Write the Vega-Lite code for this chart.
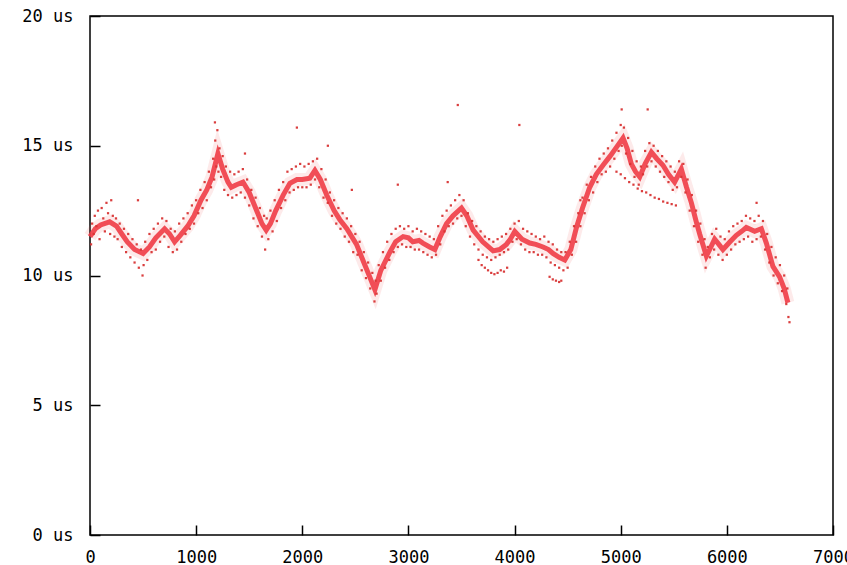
{
  "$schema": "https://vega.github.io/schema/vega-lite/v6.json",
  "width": 743,
  "height": 519,
  "autosize": "none",
  "padding": {"left": 90, "top": 16, "right": 14, "bottom": 30},
  "background": "white",
  "config": {
    "view": {"stroke": "#000000", "strokeWidth": 1.5},
    "axis": {
      "domain": false,
      "grid": false,
      "ticks": true,
      "tickColor": "#000000",
      "tickWidth": 1.5,
      "tickSize": 10,
      "offset": -10,
      "labelFlush": false,
      "labelOverlap": false,
      "labelFont": "DejaVu Sans Mono",
      "labelFontSize": 17,
      "labelColor": "#000000",
      "title": null
    }
  },
  "datasets": {
    "trend": [
      {"t":0,"lat":11.5},{"t":50,"lat":11.8},{"t":100,"lat":11.95},{"t":185,"lat":12.07},{"t":250,"lat":11.9},{"t":300,"lat":11.6},{"t":350,"lat":11.3},{"t":420,"lat":11.0},{"t":500,"lat":10.85},{"t":560,"lat":11.1},{"t":620,"lat":11.45},{"t":703,"lat":11.8},{"t":750,"lat":11.6},{"t":797,"lat":11.3},{"t":850,"lat":11.55},{"t":920,"lat":11.9},{"t":980,"lat":12.3},{"t":1045,"lat":12.9},{"t":1100,"lat":13.3},{"t":1150,"lat":13.8},{"t":1205,"lat":14.7},{"t":1250,"lat":14.1},{"t":1300,"lat":13.6},{"t":1331,"lat":13.4},{"t":1380,"lat":13.5},{"t":1441,"lat":13.6},{"t":1500,"lat":13.2},{"t":1560,"lat":12.6},{"t":1620,"lat":12.0},{"t":1660,"lat":11.75},{"t":1700,"lat":12.0},{"t":1750,"lat":12.5},{"t":1820,"lat":13.1},{"t":1883,"lat":13.55},{"t":1950,"lat":13.7},{"t":2000,"lat":13.7},{"t":2071,"lat":13.75},{"t":2119,"lat":14.05},{"t":2170,"lat":13.7},{"t":2230,"lat":13.1},{"t":2300,"lat":12.5},{"t":2354,"lat":12.15},{"t":2420,"lat":11.8},{"t":2511,"lat":11.2},{"t":2580,"lat":10.5},{"t":2640,"lat":9.9},{"t":2684,"lat":9.45},{"t":2740,"lat":10.2},{"t":2825,"lat":10.9},{"t":2880,"lat":11.3},{"t":2950,"lat":11.5},{"t":3000,"lat":11.45},{"t":3041,"lat":11.3},{"t":3100,"lat":11.35},{"t":3136,"lat":11.25},{"t":3200,"lat":11.1},{"t":3249,"lat":11.0},{"t":3300,"lat":11.5},{"t":3359,"lat":12.0},{"t":3420,"lat":12.3},{"t":3500,"lat":12.6},{"t":3550,"lat":12.3},{"t":3610,"lat":11.75},{"t":3700,"lat":11.3},{"t":3798,"lat":10.95},{"t":3860,"lat":11.0},{"t":3923,"lat":11.2},{"t":3960,"lat":11.4},{"t":4002,"lat":11.7},{"t":4070,"lat":11.4},{"t":4143,"lat":11.25},{"t":4200,"lat":11.2},{"t":4268,"lat":11.1},{"t":4320,"lat":11.0},{"t":4362,"lat":10.85},{"t":4420,"lat":10.7},{"t":4473,"lat":10.6},{"t":4530,"lat":11.0},{"t":4583,"lat":11.85},{"t":4640,"lat":12.6},{"t":4708,"lat":13.4},{"t":4770,"lat":13.9},{"t":4833,"lat":14.25},{"t":4900,"lat":14.6},{"t":4944,"lat":14.85},{"t":5022,"lat":15.3},{"t":5060,"lat":14.9},{"t":5100,"lat":14.3},{"t":5140,"lat":14.0},{"t":5179,"lat":13.8},{"t":5230,"lat":14.3},{"t":5289,"lat":14.75},{"t":5340,"lat":14.5},{"t":5398,"lat":14.25},{"t":5450,"lat":13.9},{"t":5508,"lat":13.6},{"t":5571,"lat":14.1},{"t":5620,"lat":13.4},{"t":5666,"lat":12.8},{"t":5710,"lat":12.1},{"t":5744,"lat":11.6},{"t":5807,"lat":10.75},{"t":5850,"lat":11.1},{"t":5885,"lat":11.4},{"t":5925,"lat":11.2},{"t":5963,"lat":11.0},{"t":6030,"lat":11.3},{"t":6089,"lat":11.55},{"t":6140,"lat":11.7},{"t":6183,"lat":11.85},{"t":6262,"lat":11.7},{"t":6325,"lat":11.8},{"t":6372,"lat":11.25},{"t":6434,"lat":10.35},{"t":6497,"lat":9.95},{"t":6540,"lat":9.5},{"t":6575,"lat":8.95}
    ],
    "dots": [
      {"t":10,"lat":11.2},{"t":20,"lat":12.0},{"t":35,"lat":11.6},{"t":45,"lat":12.3},{"t":60,"lat":11.9},{"t":75,"lat":12.5},{"t":90,"lat":11.4},{"t":110,"lat":12.6},{"t":125,"lat":12.2},{"t":140,"lat":11.7},{"t":155,"lat":12.8},{"t":170,"lat":12.4},{"t":190,"lat":11.6},{"t":200,"lat":12.9},{"t":215,"lat":12.3},{"t":230,"lat":11.5},{"t":245,"lat":12.2},{"t":260,"lat":11.4},{"t":280,"lat":12.0},{"t":300,"lat":11.1},{"t":320,"lat":11.8},{"t":340,"lat":10.9},{"t":360,"lat":11.6},{"t":380,"lat":10.7},{"t":400,"lat":11.4},{"t":420,"lat":10.5},{"t":440,"lat":11.2},{"t":460,"lat":10.3},{"t":480,"lat":11.0},{"t":495,"lat":10.0},{"t":505,"lat":10.4},{"t":520,"lat":11.3},{"t":540,"lat":10.6},{"t":560,"lat":11.6},{"t":580,"lat":10.9},{"t":600,"lat":11.8},{"t":620,"lat":11.0},{"t":640,"lat":12.0},{"t":660,"lat":11.3},{"t":680,"lat":12.2},{"t":700,"lat":11.5},{"t":720,"lat":12.1},{"t":740,"lat":11.1},{"t":760,"lat":11.8},{"t":780,"lat":10.9},{"t":800,"lat":11.7},{"t":820,"lat":11.0},{"t":840,"lat":12.0},{"t":860,"lat":11.3},{"t":880,"lat":12.2},{"t":900,"lat":11.6},{"t":920,"lat":12.4},{"t":940,"lat":11.8},{"t":960,"lat":12.7},{"t":980,"lat":12.0},{"t":1000,"lat":12.9},
      {"t":1020,"lat":12.4},{"t":1040,"lat":13.3},{"t":1060,"lat":12.6},{"t":1080,"lat":13.6},{"t":1100,"lat":12.9},{"t":1120,"lat":14.0},{"t":1140,"lat":13.4},{"t":1160,"lat":14.5},{"t":1170,"lat":13.7},{"t":1180,"lat":15.2},{"t":1190,"lat":14.2},{"t":1200,"lat":15.6},{"t":1210,"lat":14.0},{"t":1220,"lat":14.9},{"t":1235,"lat":13.8},{"t":1250,"lat":14.6},{"t":1265,"lat":13.3},{"t":1280,"lat":14.2},{"t":1300,"lat":13.1},{"t":1320,"lat":14.0},{"t":1340,"lat":13.0},{"t":1360,"lat":13.9},{"t":1380,"lat":13.1},{"t":1400,"lat":14.0},{"t":1420,"lat":13.2},{"t":1440,"lat":14.1},{"t":1460,"lat":13.0},{"t":1480,"lat":13.7},{"t":1500,"lat":12.7},{"t":1520,"lat":13.3},{"t":1540,"lat":12.2},{"t":1560,"lat":13.0},{"t":1580,"lat":11.9},{"t":1600,"lat":12.6},{"t":1620,"lat":11.5},{"t":1640,"lat":12.3},{"t":1650,"lat":11.0},{"t":1665,"lat":12.2},{"t":1680,"lat":11.4},{"t":1700,"lat":12.5},{"t":1720,"lat":11.7},{"t":1740,"lat":12.9},{"t":1760,"lat":12.1},{"t":1780,"lat":13.3},{"t":1800,"lat":12.6},{"t":1820,"lat":13.6},{"t":1840,"lat":12.9},{"t":1860,"lat":14.0},{"t":1880,"lat":13.2},{"t":1900,"lat":14.1},{"t":1920,"lat":13.3},{"t":1940,"lat":14.2},{"t":1960,"lat":13.4},{"t":1980,"lat":14.3},{"t":2000,"lat":13.4},
      {"t":2020,"lat":14.2},{"t":2040,"lat":13.4},{"t":2060,"lat":14.3},{"t":2080,"lat":13.5},{"t":2100,"lat":14.4},{"t":2120,"lat":13.7},{"t":2140,"lat":14.5},{"t":2160,"lat":13.4},{"t":2180,"lat":14.1},{"t":2200,"lat":13.0},{"t":2220,"lat":13.7},{"t":2240,"lat":12.8},{"t":2260,"lat":13.2},{"t":2280,"lat":12.3},{"t":2300,"lat":12.9},{"t":2320,"lat":12.0},{"t":2340,"lat":12.6},{"t":2360,"lat":11.8},{"t":2380,"lat":12.4},{"t":2400,"lat":11.5},{"t":2420,"lat":12.2},{"t":2440,"lat":11.3},{"t":2460,"lat":11.9},{"t":2480,"lat":10.9},{"t":2500,"lat":11.6},{"t":2520,"lat":10.8},{"t":2540,"lat":11.3},{"t":2560,"lat":10.2},{"t":2580,"lat":10.9},{"t":2600,"lat":9.9},{"t":2620,"lat":10.5},{"t":2640,"lat":9.5},{"t":2660,"lat":10.1},{"t":2680,"lat":9.0},{"t":2690,"lat":9.8},{"t":2700,"lat":9.3},{"t":2720,"lat":10.4},{"t":2740,"lat":9.8},{"t":2760,"lat":10.9},{"t":2780,"lat":10.3},{"t":2800,"lat":11.3},{"t":2820,"lat":10.6},{"t":2840,"lat":11.6},{"t":2860,"lat":10.9},{"t":2880,"lat":11.8},{"t":2900,"lat":11.1},{"t":2920,"lat":11.9},{"t":2940,"lat":11.2},{"t":2960,"lat":11.8},{"t":2980,"lat":11.1},{"t":3000,"lat":11.9},
      {"t":3020,"lat":11.1},{"t":3040,"lat":11.7},{"t":3060,"lat":11.0},{"t":3080,"lat":11.8},{"t":3100,"lat":11.0},{"t":3120,"lat":11.7},{"t":3140,"lat":10.9},{"t":3160,"lat":11.6},{"t":3180,"lat":10.8},{"t":3200,"lat":11.5},{"t":3220,"lat":10.7},{"t":3240,"lat":11.4},{"t":3260,"lat":10.8},{"t":3280,"lat":11.9},{"t":3300,"lat":11.2},{"t":3320,"lat":12.3},{"t":3340,"lat":11.7},{"t":3360,"lat":12.5},{"t":3380,"lat":11.9},{"t":3400,"lat":12.7},{"t":3420,"lat":12.0},{"t":3440,"lat":12.9},{"t":3460,"lat":12.2},{"t":3480,"lat":13.1},{"t":3500,"lat":12.3},{"t":3520,"lat":12.9},{"t":3540,"lat":11.9},{"t":3560,"lat":12.4},{"t":3580,"lat":11.5},{"t":3600,"lat":12.1},{"t":3620,"lat":11.2},{"t":3640,"lat":11.9},{"t":3660,"lat":11.0},{"t":3680,"lat":11.7},{"t":3700,"lat":10.8},{"t":3720,"lat":11.5},{"t":3740,"lat":10.7},{"t":3760,"lat":11.4},{"t":3780,"lat":10.6},{"t":3800,"lat":11.3},{"t":3820,"lat":10.7},{"t":3840,"lat":11.4},{"t":3860,"lat":10.8},{"t":3880,"lat":11.5},{"t":3900,"lat":10.9},{"t":3920,"lat":11.6},{"t":3940,"lat":11.0},{"t":3960,"lat":11.8},{"t":3980,"lat":11.3},{"t":4000,"lat":12.0},
      {"t":3660,"lat":10.6},{"t":3690,"lat":10.4},{"t":3720,"lat":10.3},{"t":3750,"lat":10.2},{"t":3780,"lat":10.1},{"t":3810,"lat":10.05},{"t":3840,"lat":10.1},{"t":3870,"lat":10.2},{"t":3900,"lat":10.15},{"t":3930,"lat":10.3},
      {"t":4020,"lat":11.4},{"t":4040,"lat":12.1},{"t":4060,"lat":11.2},{"t":4080,"lat":11.8},{"t":4100,"lat":11.0},{"t":4120,"lat":11.7},{"t":4140,"lat":10.9},{"t":4160,"lat":11.6},{"t":4180,"lat":10.9},{"t":4200,"lat":11.5},{"t":4220,"lat":10.8},{"t":4240,"lat":11.4},{"t":4260,"lat":10.8},{"t":4280,"lat":11.5},{"t":4300,"lat":10.7},{"t":4320,"lat":11.3},{"t":4340,"lat":10.5},{"t":4360,"lat":11.2},{"t":4380,"lat":10.4},{"t":4400,"lat":11.0},{"t":4420,"lat":10.3},{"t":4440,"lat":10.9},{"t":4460,"lat":10.2},{"t":4480,"lat":10.9},{"t":4500,"lat":10.3},{"t":4520,"lat":11.3},{"t":4540,"lat":10.8},{"t":4560,"lat":11.9},{"t":4580,"lat":11.3},{"t":4600,"lat":12.4},{"t":4620,"lat":11.9},{"t":4640,"lat":13.0},{"t":4660,"lat":12.4},{"t":4680,"lat":13.5},{"t":4700,"lat":12.9},{"t":4720,"lat":13.8},{"t":4740,"lat":13.2},{"t":4760,"lat":14.2},{"t":4780,"lat":13.6},{"t":4800,"lat":14.5},{"t":4820,"lat":13.9},{"t":4840,"lat":14.7},{"t":4860,"lat":14.0},{"t":4880,"lat":14.9},{"t":4900,"lat":14.2},{"t":4920,"lat":15.2},{"t":4940,"lat":14.5},{"t":4960,"lat":15.5},{"t":4980,"lat":14.8},{"t":5000,"lat":15.8},
      {"t":4330,"lat":9.95},{"t":4360,"lat":9.85},{"t":4390,"lat":9.8},{"t":4420,"lat":9.75},{"t":4440,"lat":9.8},
      {"t":5010,"lat":15.0},{"t":5030,"lat":15.7},{"t":5050,"lat":14.7},{"t":5070,"lat":15.3},{"t":5090,"lat":14.3},{"t":5110,"lat":14.8},{"t":5130,"lat":13.8},{"t":5150,"lat":14.4},{"t":5170,"lat":13.5},{"t":5190,"lat":14.2},{"t":5210,"lat":13.9},{"t":5230,"lat":14.8},{"t":5250,"lat":14.2},{"t":5270,"lat":15.1},{"t":5290,"lat":14.4},{"t":5310,"lat":15.0},{"t":5330,"lat":14.2},{"t":5350,"lat":14.8},{"t":5370,"lat":14.0},{"t":5390,"lat":14.6},{"t":5410,"lat":13.8},{"t":5430,"lat":14.4},{"t":5450,"lat":13.6},{"t":5470,"lat":14.2},{"t":5490,"lat":13.3},{"t":5510,"lat":14.0},{"t":5530,"lat":13.4},{"t":5550,"lat":14.4},{"t":5570,"lat":13.8},{"t":5590,"lat":14.3},{"t":5610,"lat":13.2},{"t":5630,"lat":13.7},{"t":5650,"lat":12.5},{"t":5670,"lat":13.1},{"t":5690,"lat":11.9},{"t":5710,"lat":12.5},{"t":5730,"lat":11.3},{"t":5750,"lat":12.0},{"t":5770,"lat":10.8},{"t":5790,"lat":11.4},{"t":5800,"lat":10.3},{"t":5820,"lat":11.1},{"t":5840,"lat":10.7},{"t":5860,"lat":11.6},{"t":5880,"lat":11.0},{"t":5900,"lat":11.8},{"t":5920,"lat":10.8},{"t":5940,"lat":11.5},{"t":5960,"lat":10.6},{"t":5980,"lat":11.4},{"t":6000,"lat":10.8},
      {"t":4960,"lat":14.0},{"t":5000,"lat":13.9},{"t":5040,"lat":13.75},{"t":5080,"lat":13.6},{"t":5120,"lat":13.5},{"t":5160,"lat":13.35},{"t":5200,"lat":13.25},{"t":5240,"lat":13.2},{"t":5280,"lat":13.1},{"t":5320,"lat":13.0},{"t":5360,"lat":12.95},{"t":5400,"lat":12.85},{"t":5440,"lat":12.8},{"t":5480,"lat":12.75},{"t":5520,"lat":12.7},
      {"t":6020,"lat":11.7},{"t":6040,"lat":11.0},{"t":6060,"lat":11.9},{"t":6080,"lat":11.2},{"t":6100,"lat":12.0},{"t":6120,"lat":11.3},{"t":6140,"lat":12.1},{"t":6160,"lat":11.4},{"t":6180,"lat":12.3},{"t":6200,"lat":11.5},{"t":6220,"lat":12.2},{"t":6240,"lat":11.3},{"t":6260,"lat":12.1},{"t":6280,"lat":11.4},{"t":6300,"lat":12.3},{"t":6320,"lat":11.5},{"t":6340,"lat":12.1},{"t":6360,"lat":11.0},{"t":6380,"lat":11.6},{"t":6400,"lat":10.5},{"t":6420,"lat":11.1},{"t":6440,"lat":10.0},{"t":6460,"lat":10.7},{"t":6480,"lat":9.7},{"t":6500,"lat":10.4},{"t":6520,"lat":9.4},{"t":6540,"lat":10.0},{"t":6560,"lat":8.9},{"t":6570,"lat":9.5},{"t":6580,"lat":8.4},{"t":6590,"lat":8.2},
      {"t":1177,"lat":15.9},{"t":1949,"lat":15.7},{"t":3465,"lat":16.57},{"t":4045,"lat":15.8},{"t":5009,"lat":16.4},{"t":5254,"lat":16.4},{"t":2241,"lat":15.0},{"t":2900,"lat":13.5},{"t":2467,"lat":13.3},{"t":452,"lat":12.9},{"t":1460,"lat":14.7},{"t":3370,"lat":13.6},{"t":4620,"lat":12.9},{"t":6280,"lat":12.8}
    ]
  },
  "layer": [
    {
      "data": {"name": "trend"},
      "mark": {"type": "line", "color": "#f26060", "strokeWidth": 13, "opacity": 0.13},
      "encoding": {
        "x": {"field": "t", "type": "quantitative", "scale": {"domain": [0, 7000], "nice": false}, "axis": {"values": [0,1000,2000,3000,4000,5000,6000,7000], "format": "d", "labelPadding": 14, "labelAngle": 0, "labelBaseline": "top", "labelAlign": "center"}},
        "y": {"field": "lat", "type": "quantitative", "scale": {"domain": [0, 20], "nice": false}, "axis": {"values": [0,5,10,15,20], "labelExpr": "datum.value + ' us'", "labelPadding": 17}}
      }
    },
    {
      "data": {"name": "trend"},
      "mark": {"type": "line", "color": "#f03c46", "strokeWidth": 5, "opacity": 0.9},
      "encoding": {
        "x": {"field": "t", "type": "quantitative"},
        "y": {"field": "lat", "type": "quantitative"}
      }
    },
    {
      "data": {"name": "dots"},
      "mark": {"type": "square", "color": "#d83434", "size": 5, "opacity": 0.95, "filled": true},
      "encoding": {
        "x": {"field": "t", "type": "quantitative"},
        "y": {"field": "lat", "type": "quantitative"}
      }
    }
  ]
}
